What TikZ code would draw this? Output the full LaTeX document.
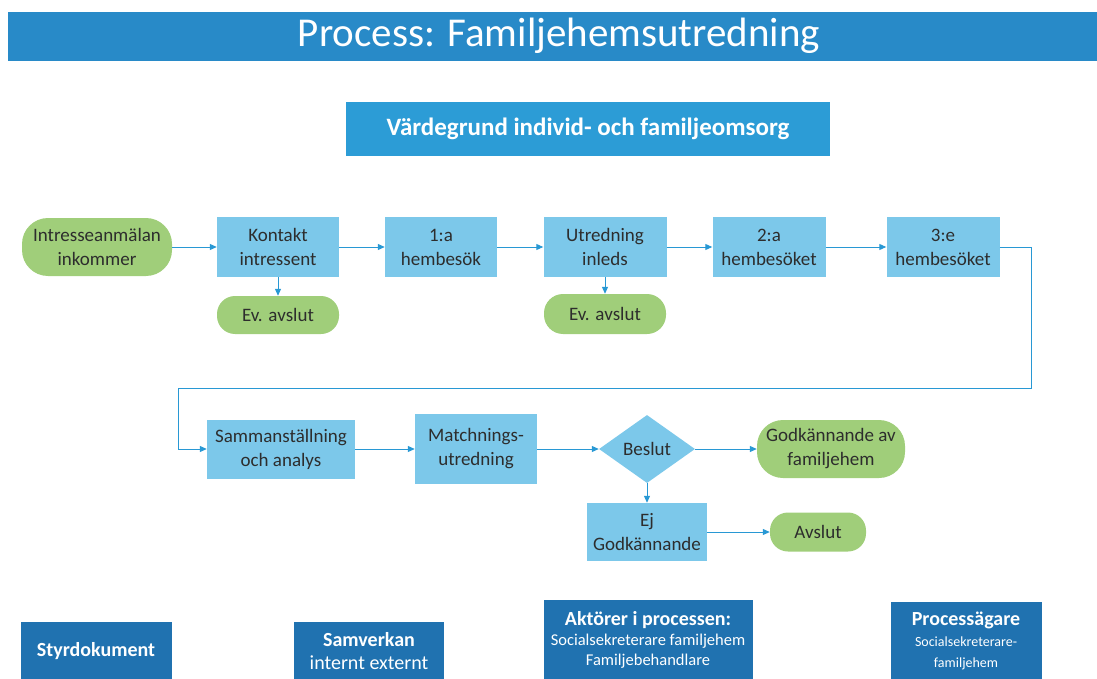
\documentclass[tikz,border=0pt]{standalone}
\usepackage{fontspec}
\setmainfont{Carlito}
\usetikzlibrary{shapes.geometric,arrows.meta}
\definecolor{titleblue}{RGB}{40,138,200}
\definecolor{valueblue}{RGB}{44,156,214}
\definecolor{darkbox}{RGB}{32,114,176}
\definecolor{procblue}{RGB}{124,200,234}
\definecolor{termgreen}{RGB}{160,206,122}
\definecolor{arrowblue}{RGB}{40,152,212}
\definecolor{txt}{RGB}{45,45,45}
\newcommand\fsz[2]{\fontsize{#1}{#2}\selectfont}
\begin{document}
\begin{tikzpicture}[x=1pt,y=-1pt,
  proc/.style={fill=procblue, text=txt, align=center, inner sep=0pt, font=\fsz{19}{24}},
  term/.style={fill=termgreen, text=txt, align=center, inner sep=0pt, font=\fsz{19}{24}},
  dec/.style={diamond, fill=procblue, text=txt, align=center, inner sep=0pt, font=\fsz{19}{24}},
  infobox/.style={fill=darkbox, text=white, align=center, inner sep=0pt},
  arr/.style={draw=arrowblue, line width=1pt, -{Triangle[length=7pt,width=6pt]}}
]
\useasboundingbox (0,0) rectangle (1097,679);
% title
\fill[titleblue] (8,12) rectangle (1097,61);
\node[text=white, font=\fsz{41}{46}] (title) at (559,36) {Process: Familjehemsutredning};
% value box
\node[fill=valueblue, text=white, minimum width=484pt, minimum height=54pt, inner sep=0pt, font=\bfseries\fsz{25}{30}] (varde) at (588,129) {Värdegrund individ- och familjeomsorg};
% row 1
\node[term, minimum width=150pt, minimum height=58pt, rounded corners=26pt] (intr) at (97,247) {Intresseanmälan\\inkommer};
\node[proc, minimum width=122pt, minimum height=60pt] (kont) at (278,247) {Kontakt\\intressent};
\node[proc, minimum width=112pt, minimum height=60pt] (h1) at (441,247) {1:a\\hembesök};
\node[proc, minimum width=123pt, minimum height=60pt] (utr) at (605,247) {Utredning\\inleds};
\node[proc, minimum width=113pt, minimum height=60pt] (h2) at (769,247) {2:a\\hembesöket};
\node[proc, minimum width=113pt, minimum height=60pt] (h3) at (943,247) {3:e\\hembesöket};
\node[term, minimum width=122pt, minimum height=38pt, rounded corners=18pt] (ev1) at (278,315) {Ev. avslut};
\node[term, minimum width=122pt, minimum height=40pt, rounded corners=19pt] (ev2) at (605,314) {Ev. avslut};
% row 2
\node[proc, minimum width=148pt, minimum height=59pt] (samm) at (281,449) {Sammanställning\\och analys};
\node[proc, minimum width=122pt, minimum height=70pt] (match) at (476,449) {Matchnings-\\utredning};
\node[dec, minimum width=96pt, minimum height=68pt, aspect=1.41] (beslut) at (647,449) {Beslut};
\node[term, minimum width=148pt, minimum height=58pt, rounded corners=26pt] (godk) at (831,449) {Godkännande av\\familjehem};
\node[proc, minimum width=120pt, minimum height=58pt] (ej) at (647,532) {Ej\\Godkännande};
\node[term, minimum width=96pt, minimum height=39pt, rounded corners=18pt] (avs) at (818,532) {Avslut};
% connectors
\draw[arr] (intr) -- (kont);
\draw[arr] (kont) -- (h1);
\draw[arr] (h1) -- (utr);
\draw[arr] (utr) -- (h2);
\draw[arr] (h2) -- (h3);
\draw[arr] (kont) -- (ev1);
\draw[arr] (utr) -- (ev2);
\coordinate (rr) at (1031,388);
\coordinate (lr) at (178,388);
\draw[arr] (h3.east) -| (rr) -- (lr) |- (samm.west);
\draw[arr] (samm) -- (match);
\draw[arr] (match) -- (beslut);
\draw[arr] (beslut) -- (godk);
\draw[arr] (beslut) -- (ej);
\draw[arr] (ej) -- (avs);
% bottom boxes
\node[infobox, minimum width=151pt, minimum height=58pt, anchor=north, font=\bfseries\fsz{20}{23}] (styr) at (96,622) {Styrdokument};
\node[infobox, minimum width=150pt, minimum height=58pt, anchor=north, font=\fsz{20}{23}] (samv) at (369,622) {\textbf{Samverkan}\\internt externt};
\node[infobox, minimum width=209pt, minimum height=80pt, anchor=north, font=\fsz{16.5}{20}] (akt) at (648,600) {{\bfseries\fsz{20}{22}Aktörer i processen:}\\Socialsekreterare familjehem\\Familjebehandlare};
\node[infobox, minimum width=151pt, minimum height=78pt, anchor=north, font=\fsz{14}{21}] (pag) at (966,602) {{\bfseries\fsz{20}{22}Processägare}\\Socialsekreterare-\\familjehem};
\end{tikzpicture}
\end{document}
